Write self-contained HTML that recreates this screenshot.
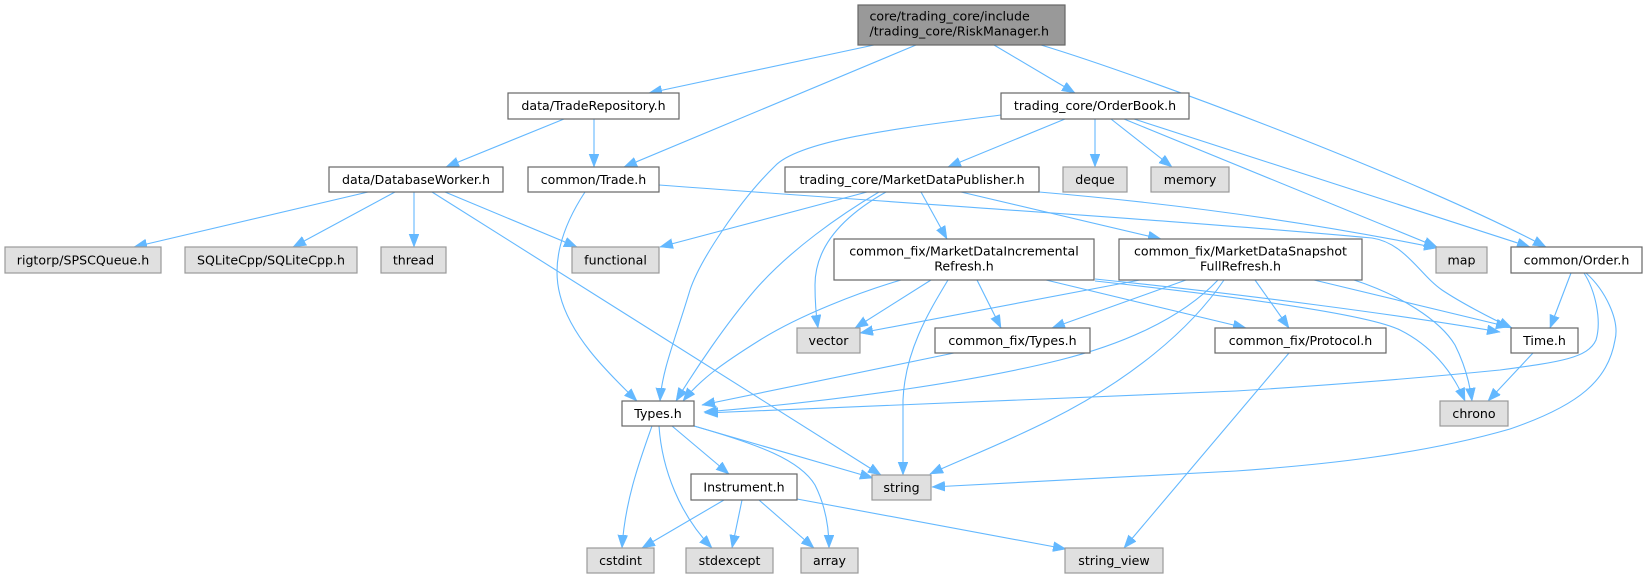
<!DOCTYPE html>
<html>
<head>
<meta charset="utf-8">
<style>
  html, body { margin: 0; padding: 0; background: #ffffff; }
  svg { display: block; }
  text { font-family: "DejaVu Sans", "Liberation Sans", sans-serif; font-size: 12.6px; fill: #000; }
  .e { fill: none; stroke: #63b8ff; stroke-width: 1.1; marker-end: url(#ah); }
  .n { fill: #ffffff; stroke: #666666; stroke-width: 1.2; }
  .g { fill: #e0e0e0; stroke: #999999; stroke-width: 1.2; }
  .r { fill: #999999; stroke: #666666; stroke-width: 1.2; }
</style>
</head>
<body>
<svg width="1647" height="579" viewBox="0 0 1647 579" xmlns="http://www.w3.org/2000/svg">
  <defs>
    <marker id="ah" markerUnits="userSpaceOnUse" markerWidth="14" markerHeight="11" refX="13" refY="5" orient="auto">
      <path d="M0,0 L13,5 L0,10 z" fill="#63b8ff" stroke="#63b8ff" stroke-width="0.5"/>
    </marker>
  </defs>
  <rect x="0" y="0" width="1647" height="579" fill="#ffffff"/>

  <!-- edges -->
  <path class="e" d="M874,45 L649,93"/>
  <path class="e" d="M916,45 L624,167"/>
  <path class="e" d="M994,45 L1075,93"/>
  <path class="e" d="M1041,45 C1150,78 1420,180 1546,247"/>
  <path class="e" d="M564,119 L446,167"/>
  <path class="e" d="M594,119 L594,167"/>
  <path class="e" d="M368,192 L134,247"/>
  <path class="e" d="M395,192 L293,247"/>
  <path class="e" d="M414,192 L414,247"/>
  <path class="e" d="M445,192 L577,247"/>
  <path class="e" d="M432,192 L881,475"/>
  <path class="e" d="M585,192 C560,230 552,265 560,295 C570,335 605,370 637,401"/>
  <path class="e" d="M659,185 C900,203 1200,222 1372,238 C1405,243 1420,275 1442,290 C1460,302 1490,318 1512,328"/>
  <path class="e" d="M1001,115 C900,128 800,140 775,166 C740,200 700,260 690,290 C675,340 662,370 660,401"/>
  <path class="e" d="M1065,119 L948,167"/>
  <path class="e" d="M1095,119 L1095,167"/>
  <path class="e" d="M1111,119 L1172,167"/>
  <path class="e" d="M1124,119 L1437,247"/>
  <path class="e" d="M1134,119 L1530,247"/>
  <path class="e" d="M867,192 L660,247"/>
  <path class="e" d="M886,192 C845,215 815,245 815,285 C815,300 816,315 818,328"/>
  <path class="e" d="M879,192 C840,215 790,250 755,290 C725,325 695,370 676,401"/>
  <path class="e" d="M921,192 L947,239"/>
  <path class="e" d="M961,192 L1161,239"/>
  <path class="e" d="M1039,192 Q1250,210 1437,248"/>
  <path class="e" d="M901,280 C860,292 800,315 760,340 C720,365 700,380 683,401"/>
  <path class="e" d="M931,280 L855,328"/>
  <path class="e" d="M948,280 C930,310 905,350 903,400 L903,475"/>
  <path class="e" d="M977,280 L1001,328"/>
  <path class="e" d="M1046,280 L1246,328"/>
  <path class="e" d="M1095,279 C1250,295 1400,315 1500,332"/>
  <path class="e" d="M1095,281 C1250,298 1370,315 1400,330 C1430,345 1452,370 1465,401"/>
  <path class="e" d="M1140,280 L860,333"/>
  <path class="e" d="M1186,280 L1052,328"/>
  <path class="e" d="M1218,280 C1180,320 1120,345 1060,360 C980,380 850,400 704,412"/>
  <path class="e" d="M1224,280 C1190,330 1130,380 1050,420 C1000,445 960,460 930,474"/>
  <path class="e" d="M1255,280 L1289,328"/>
  <path class="e" d="M1314,280 L1509,327"/>
  <path class="e" d="M1354,280 C1400,295 1440,320 1455,345 C1465,365 1470,385 1472,401"/>
  <path class="e" d="M1571,273 L1550,328"/>
  <path class="e" d="M1584,273 C1595,290 1602,320 1596,340 C1588,358 1560,362 1500,370 C1400,380 1300,387 1236,391 C1000,400 850,408 705,413"/>
  <path class="e" d="M1586,273 C1605,290 1620,320 1615,340 C1608,380 1580,405 1510,429 C1420,455 1320,465 1236,471 C1100,478 1000,483 932,487"/>
  <path class="e" d="M1289,353 L1124,548"/>
  <path class="e" d="M1533,353 L1488,401"/>
  <path class="e" d="M954,353 L702,405"/>
  <path class="e" d="M652,426 C640,460 625,500 622,548"/>
  <path class="e" d="M659,426 C662,470 680,515 712,548"/>
  <path class="e" d="M672,426 L729,474"/>
  <path class="e" d="M694,426 L873,478"/>
  <path class="e" d="M694,426 C760,445 800,460 815,485 C825,505 829,525 829,548"/>
  <path class="e" d="M724,500 L642,548"/>
  <path class="e" d="M742,500 L732,548"/>
  <path class="e" d="M759,500 L814,548"/>
  <path class="e" d="M797,499 L1066,549"/>

  <!-- nodes -->
  <rect class="r" x="858" y="5" width="207" height="40"/>
  <text x="869.5" y="20.5">core/trading_core/include</text>
  <text x="869.5" y="35.5">/trading_core/RiskManager.h</text>

  <rect class="n" x="508" y="93" width="171" height="26"/>
  <text x="593.5" y="110" text-anchor="middle">data/TradeRepository.h</text>

  <rect class="n" x="1001" y="93" width="188" height="26"/>
  <text x="1095" y="110" text-anchor="middle">trading_core/OrderBook.h</text>

  <rect class="n" x="329" y="167" width="174" height="25"/>
  <text x="416" y="184" text-anchor="middle">data/DatabaseWorker.h</text>

  <rect class="n" x="528" y="167" width="131" height="25"/>
  <text x="593.5" y="184" text-anchor="middle">common/Trade.h</text>

  <rect class="n" x="785" y="167" width="254" height="25"/>
  <text x="912" y="184" text-anchor="middle">trading_core/MarketDataPublisher.h</text>

  <rect class="g" x="1063" y="167" width="64" height="25"/>
  <text x="1095" y="184" text-anchor="middle">deque</text>

  <rect class="g" x="1151" y="167" width="78" height="25"/>
  <text x="1190" y="184" text-anchor="middle">memory</text>

  <rect class="g" x="5" y="247" width="156" height="26"/>
  <text x="83" y="264.5" text-anchor="middle">rigtorp/SPSCQueue.h</text>

  <rect class="g" x="185" y="247" width="172" height="26"/>
  <text x="271" y="264.5" text-anchor="middle">SQLiteCpp/SQLiteCpp.h</text>

  <rect class="g" x="381" y="247" width="65" height="26"/>
  <text x="413.5" y="264.5" text-anchor="middle">thread</text>

  <rect class="g" x="572" y="247" width="87" height="26"/>
  <text x="615.5" y="264.5" text-anchor="middle">functional</text>

  <rect class="n" x="834" y="239" width="260" height="41"/>
  <text x="964" y="255.5" text-anchor="middle">common_fix/MarketDataIncremental</text>
  <text x="964" y="270.5" text-anchor="middle">Refresh.h</text>

  <rect class="n" x="1119" y="239" width="243" height="41"/>
  <text x="1240.5" y="255.5" text-anchor="middle">common_fix/MarketDataSnapshot</text>
  <text x="1240.5" y="270.5" text-anchor="middle">FullRefresh.h</text>

  <rect class="g" x="1436" y="247" width="51" height="26"/>
  <text x="1461.5" y="264.5" text-anchor="middle">map</text>

  <rect class="n" x="1511" y="247" width="131" height="26"/>
  <text x="1576.5" y="264.5" text-anchor="middle">common/Order.h</text>

  <rect class="g" x="797" y="328" width="63" height="25"/>
  <text x="828.5" y="345" text-anchor="middle">vector</text>

  <rect class="n" x="935" y="328" width="155" height="25"/>
  <text x="1012.5" y="345" text-anchor="middle">common_fix/Types.h</text>

  <rect class="n" x="1215" y="328" width="171" height="25"/>
  <text x="1300.5" y="345" text-anchor="middle">common_fix/Protocol.h</text>

  <rect class="n" x="1511" y="328" width="67" height="25"/>
  <text x="1544.5" y="345" text-anchor="middle">Time.h</text>

  <rect class="n" x="622" y="401" width="72" height="25"/>
  <text x="658" y="418" text-anchor="middle">Types.h</text>

  <rect class="g" x="1440" y="401" width="68" height="25"/>
  <text x="1474" y="418" text-anchor="middle">chrono</text>

  <rect class="n" x="691" y="474" width="106" height="26"/>
  <text x="744" y="491.5" text-anchor="middle">Instrument.h</text>

  <rect class="g" x="872" y="475" width="59" height="25"/>
  <text x="901.5" y="492" text-anchor="middle">string</text>

  <rect class="g" x="587" y="548" width="67" height="25"/>
  <text x="620.5" y="565" text-anchor="middle">cstdint</text>

  <rect class="g" x="686" y="548" width="87" height="25"/>
  <text x="729.5" y="565" text-anchor="middle">stdexcept</text>

  <rect class="g" x="801" y="548" width="57" height="25"/>
  <text x="829.5" y="565" text-anchor="middle">array</text>

  <rect class="g" x="1065" y="548" width="98" height="25"/>
  <text x="1114" y="565" text-anchor="middle">string_view</text>
</svg>
</body>
</html>
